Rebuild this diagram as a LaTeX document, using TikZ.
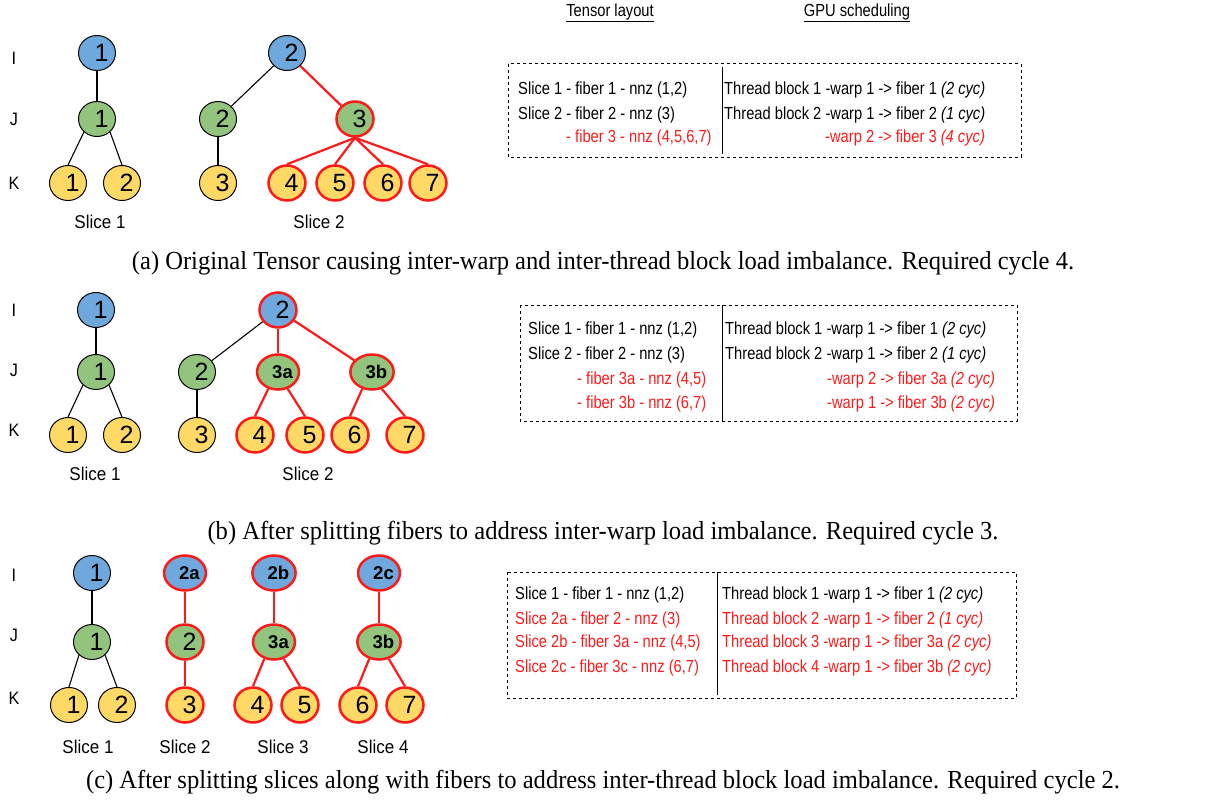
\documentclass[tikz,border=0pt]{standalone}
\usepackage{fontspec}
\setmainfont{Liberation Serif}
\newfontfamily\arial{Liberation Sans}
\newfontfamily\tabf[FakeStretch=0.84]{Liberation Sans}
\newfontfamily\hdrf[FakeStretch=0.84]{Liberation Sans}
\newfontfamily\slcf[FakeStretch=0.92]{Liberation Sans}
\newfontfamily\lvlf[FakeStretch=0.9]{Liberation Sans}
\newfontfamily\capf[FakeStretch=0.945]{Liberation Serif}
\usetikzlibrary{shapes.geometric}
\definecolor{cblue}{HTML}{6FA8DC}
\definecolor{cgreen}{HTML}{93C47D}
\definecolor{cyellow}{HTML}{FFD966}
\definecolor{cred}{HTML}{FF1A1A}
\begin{document}
\begin{tikzpicture}[x=1pt,y=-1pt,
  nd/.style={ellipse, draw, line width=1pt, minimum width=37pt, minimum height=35pt, inner sep=0pt, font=\arial\fontsize{25}{25}\selectfont, execute at begin node={\hspace*{9pt}}},
  ndb/.style={nd, font=\arial\bfseries\fontsize{18.5}{18.5}\selectfont, execute at begin node={}},
  ni/.style={fill=cblue}, nj/.style={fill=cgreen}, nk/.style={fill=cyellow},
  rd/.style={draw=cred, line width=2.5pt},
  ed/.style={line width=1.1pt},
  redge/.style={draw=cred, line width=2.2pt},
  lvl/.style={font=\lvlf\fontsize{18}{18}\selectfont},
  slc/.style={font=\slcf\fontsize{18.5}{18.5}\selectfont},
  hdr/.style={font=\hdrf\fontsize{17.5}{17.5}\selectfont},
  tx/.style={anchor=west, inner sep=0pt, font=\tabf\fontsize{17.5}{17.5}\selectfont},
  rtx/.style={tx, text=cred},
  capt/.style={font=\capf\fontsize{26}{26}\selectfont},
  box/.style={draw, dashed, line width=1pt}]
\useasboundingbox (0,0) rectangle (1207,808);

% ---------------- panel (a) ----------------
\node[lvl] (laI) at (14,58) {I};
\node[lvl] (laJ) at (14,119) {J};
\node[lvl] (laK) at (14,183) {K};
\node[nd,ni] (a1i) at (97,53) {1};
\node[nd,nj] (a1j) at (97,119) {1};
\node[nd,nk] (a1k1) at (68,183) {1};
\node[nd,nk] (a1k2) at (122,183) {2};
\node[nd,ni] (a2i) at (287,53) {2};
\node[nd,nj] (a2j) at (218,119) {2};
\node[nd,nj,rd] (a3j) at (355,119) {3};
\node[nd,nk] (a3k) at (218,183) {3};
\node[nd,nk,rd] (a4k) at (287,183) {4};
\node[nd,nk,rd] (a5k) at (335,183) {5};
\node[nd,nk,rd] (a6k) at (383,183) {6};
\node[nd,nk,rd] (a7k) at (428,183) {7};
\draw[ed] (a1i) -- (a1j);
\draw[ed] (a1j.225) -- (a1k1.north);
\draw[ed] (a1j.-45) -- (a1k2.north);
\draw[ed] (a2i) -- (a2j);
\draw[ed] (a2j) -- (a3k);
\draw[redge] (a2i) -- (a3j);
\draw[redge] (a3j.south) -- (a4k.north);
\draw[redge] (a3j.south) -- (a5k.north);
\draw[redge] (a3j.south) -- (a6k.north);
\draw[redge] (a3j.south) -- (a7k.north);
\node[slc] (sa1) at (100,222) {Slice 1};
\node[slc] (sa2) at (319,222) {Slice 2};

\node[hdr] (h1) at (610,13) {\underline{Tensor layout}};
\node[hdr] (h2) at (857,13) {\underline{GPU scheduling}};

\draw[box] (508,64) rectangle (1021,157);
\draw[line width=1pt] (722,67) -- (722,154);
\node[tx] (ta1) at (518,90) {Slice 1 - fiber 1 - nnz (1,2)};
\node[tx] (ta2) at (518,115) {Slice 2 - fiber 2 - nnz (3)};
\node[rtx] (ta3) at (566,138) {- fiber 3 - nnz (4,5,6,7)};
\node[tx] (ga1) at (724,90) {Thread block 1 -warp 1 -> fiber 1 \textit{(2 cyc)}};
\node[tx] (ga2) at (724,115) {Thread block 2 -warp 1 -> fiber 2 \textit{(1 cyc)}};
\node[rtx] (ga3) at (825,138) {-warp 2 -> fiber 3 \textit{(4 cyc)}};

\node[capt] (capa) at (603,263) {(a) Original Tensor causing inter-warp and inter-thread block load imbalance. Required cycle 4.};

% ---------------- panel (b) ----------------
\node[lvl] (lbI) at (14,310) {I};
\node[lvl] (lbJ) at (14,370) {J};
\node[lvl] (lbK) at (14,430) {K};
\node[nd,ni] (b1i) at (96,310) {1};
\node[nd,nj] (b1j) at (96,372) {1};
\node[nd,nk] (b1k1) at (68,435) {1};
\node[nd,nk] (b1k2) at (122,435) {2};
\node[nd,ni,rd] (b2i) at (278,310) {2};
\node[nd,nj] (b2j) at (197,372) {2};
\node[ndb,nj,rd] (b3aj) at (278,372) {3a};
\node[ndb,nj,rd] (b3bj) at (372,372) {3b};
\node[nd,nk] (b3k) at (197,435) {3};
\node[nd,nk,rd] (b4k) at (255,435) {4};
\node[nd,nk,rd] (b5k) at (305,435) {5};
\node[nd,nk,rd] (b6k) at (350,435) {6};
\node[nd,nk,rd] (b7k) at (405,435) {7};
\draw[ed] (b1i) -- (b1j);
\draw[ed] (b1j.225) -- (b1k1.north);
\draw[ed] (b1j.-45) -- (b1k2.north);
\draw[ed] (b2i) -- (b2j);
\draw[ed] (b2j) -- (b3k);
\draw[redge] (b2i) -- (b3aj);
\draw[redge] (b2i) -- (b3bj);
\draw[redge] (b3aj.240) -- (b4k.north);
\draw[redge] (b3aj.-60) -- (b5k.north);
\draw[redge] (b3bj.240) -- (b6k.north);
\draw[redge] (b3bj.-60) -- (b7k.north);
\node[slc] (sb1) at (95,474) {Slice 1};
\node[slc] (sb2) at (308,474) {Slice 2};

\draw[box] (520,305) rectangle (1017,421);
\draw[line width=1pt] (722,305) -- (722,421);
\node[tx] (tb1) at (528,330) {Slice 1 - fiber 1 - nnz (1,2)};
\node[tx] (tb2) at (528,355) {Slice 2 - fiber 2 - nnz (3)};
\node[rtx] (tb3) at (577,380) {- fiber 3a - nnz (4,5)};
\node[rtx] (tb4) at (577,404) {- fiber 3b - nnz (6,7)};
\node[tx] (gb1) at (725,330) {Thread block 1 -warp 1 -> fiber 1 \textit{(2 cyc)}};
\node[tx] (gb2) at (725,355) {Thread block 2 -warp 1 -> fiber 2 \textit{(1 cyc)}};
\node[rtx] (gb3) at (827,380) {-warp 2 -> fiber 3a \textit{(2 cyc)}};
\node[rtx] (gb4) at (827,404) {-warp 1 -> fiber 3b \textit{(2 cyc)}};

\node[capt] (capb) at (603,533) {(b) After splitting fibers to address inter-warp load imbalance. Required cycle 3.};

% ---------------- panel (c) ----------------
\node[lvl] (lcI) at (14,575) {I};
\node[lvl] (lcJ) at (14,635) {J};
\node[lvl] (lcK) at (14,698) {K};
\node[nd,ni] (c1i) at (92,573) {1};
\node[nd,nj] (c1j) at (92,642) {1};
\node[nd,nk] (c1k1) at (69,705) {1};
\node[nd,nk] (c1k2) at (117,705) {2};
\node[ndb,ni,rd] (c2ai) at (185,573) {2a};
\node[nd,nj,rd] (c2j) at (185,642) {2};
\node[nd,nk,rd] (c3k) at (185,705) {3};
\node[ndb,ni,rd] (c2bi) at (274,573) {2b};
\node[ndb,nj,rd] (c3aj) at (274,642) {3a};
\node[nd,nk,rd] (c4k) at (253,705) {4};
\node[nd,nk,rd] (c5k) at (300,705) {5};
\node[ndb,ni,rd] (c2ci) at (379,573) {2c};
\node[ndb,nj,rd] (c3bj) at (379,642) {3b};
\node[nd,nk,rd] (c6k) at (358,705) {6};
\node[nd,nk,rd] (c7k) at (405,705) {7};
\draw[ed] (c1i) -- (c1j);
\draw[ed] (c1j.225) -- (c1k1.north);
\draw[ed] (c1j.-45) -- (c1k2.north);
\draw[redge] (c2ai) -- (c2j);
\draw[redge] (c2j) -- (c3k);
\draw[redge] (c2bi) -- (c3aj);
\draw[redge] (c3aj.240) -- (c4k.north);
\draw[redge] (c3aj.-60) -- (c5k.north);
\draw[redge] (c2ci) -- (c3bj);
\draw[redge] (c3bj.240) -- (c6k.north);
\draw[redge] (c3bj.-60) -- (c7k.north);
\node[slc] (sc1) at (88,747) {Slice 1};
\node[slc] (sc2) at (185,747) {Slice 2};
\node[slc] (sc3) at (283,747) {Slice 3};
\node[slc] (sc4) at (383,747) {Slice 4};

\draw[box] (507,572) rectangle (1016,698);
\draw[line width=1pt] (717,572) -- (717,695);
\node[tx] (tc1) at (515,595) {Slice 1 - fiber 1 - nnz (1,2)};
\node[rtx] (tc2) at (515,620) {Slice 2a - fiber 2 - nnz (3)};
\node[rtx] (tc3) at (515,643) {Slice 2b - fiber 3a - nnz (4,5)};
\node[rtx] (tc4) at (515,668) {Slice 2c - fiber 3c - nnz (6,7)};
\node[tx] (gc1) at (722,595) {Thread block 1 -warp 1 -> fiber 1 \textit{(2 cyc)}};
\node[rtx] (gc2) at (722,620) {Thread block 2 -warp 1 -> fiber 2 \textit{(1 cyc)}};
\node[rtx] (gc3) at (722,643) {Thread block 3 -warp 1 -> fiber 3a \textit{(2 cyc)}};
\node[rtx] (gc4) at (722,668) {Thread block 4 -warp 1 -> fiber 3b \textit{(2 cyc)}};

\node[capt] (capc) at (603,782) {(c) After splitting slices along with fibers to address inter-thread block load imbalance. Required cycle 2.};
\end{tikzpicture}
\end{document}
